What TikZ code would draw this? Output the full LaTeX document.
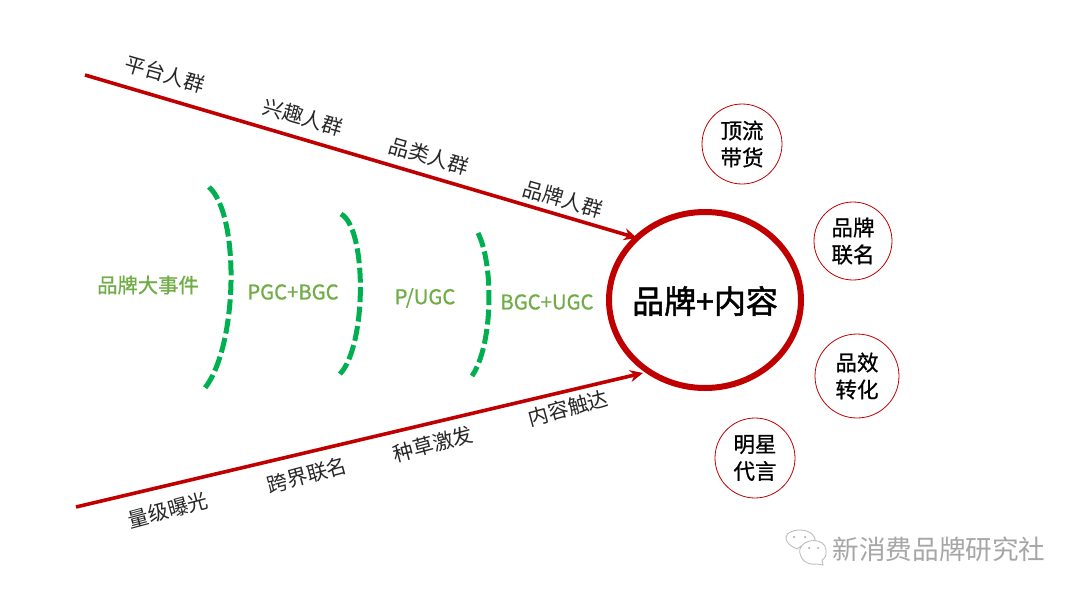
\documentclass[tikz,border=0pt]{standalone}
\usepackage{fontspec}
\setmainfont{Noto Sans CJK SC}
\newfontfamily\medfont[FakeBold=1.6]{Noto Sans CJK SC}
\newfontfamily\semifont[FakeBold=0.8]{Noto Sans CJK SC}
\usetikzlibrary{arrows.meta,shapes.geometric}
\definecolor{brandred}{RGB}{192,0,0}
\definecolor{dashgreen}{RGB}{0,176,80}
\definecolor{labelgreen}{RGB}{112,173,71}
\definecolor{txt}{RGB}{38,38,38}
\tikzset{
 x=1pt,y=-1pt,
 hub/.style={draw=brandred,line width=6pt,ellipse,minimum width=192pt,minimum height=176pt,inner sep=0pt},
 side/.style={draw=brandred,line width=0.8pt,circle,inner sep=0pt,align=center,font=\semifont\fontsize{21.5}{27}\selectfont,text=black},
 flow/.style={draw=brandred,line width=3.6pt,-{Stealth[length=13pt,width=12pt]}},
 greenarc/.style={draw=dashgreen,line width=5pt,dash pattern=on 15pt off 4.5pt},
 tag/.style={font=\fontsize{20.5}{24}\selectfont,text=txt,inner sep=0pt},
 modelabel/.style={font=\semifont\fontsize{20.3}{24}\selectfont,text=labelgreen,inner sep=0pt},
 bubble/.style={draw=black!28,line width=0.8pt,fill=white},
 eye/.style={fill=black!28,draw=none,circle,minimum size=2.5pt,inner sep=0pt},
}
\begin{document}
\begin{tikzpicture}
\useasboundingbox (0,0) rectangle (1080,597);
\fill[white] (0,0) rectangle (1080,597);
\node[hub] (hubnode) at (705,300) {};
\node[font=\medfont\fontsize{32}{38}\selectfont,text=black,inner sep=0pt] (hubtext) at (705,301) {品牌+内容};
\node[side,minimum size=80pt] (c1) at (742,144) {顶流\\带货};
\node[side,minimum size=78pt] (c2) at (853,241) {品牌\\联名};
\node[side,minimum size=84pt] (c3) at (857,376) {品效\\转化};
\node[side,minimum size=80pt] (c4) at (755,458) {明星\\代言};
\coordinate (topstart) at (85,75);
\coordinate (topend) at (637,238);
\coordinate (botstart) at (76,507);
\coordinate (botend) at (643,373);
\draw[flow] (topstart) -- (topend);
\draw[flow] (botstart) -- (botend);
\node[tag,rotate=-16] (t1) at (165,74) {平台人群};
\node[tag,rotate=-16] (t2) at (303,117) {兴趣人群};
\node[tag,rotate=-16] (t3) at (429,156) {品类人群};
\node[tag,rotate=-16] (t4) at (563,199) {品牌人群};
\node[tag,rotate=15] (b1) at (168,510) {量级曝光};
\node[tag,rotate=15] (b2) at (307,475) {跨界联名};
\node[tag,rotate=15] (b3) at (433,444) {种草激发};
\node[tag,rotate=15] (b4) at (568,408) {内容触达};
\coordinate (a1s) at (209,187);
\coordinate (a1e) at (205,388);
\coordinate (a2s) at (341,214);
\coordinate (a2e) at (340,374);
\coordinate (a3s) at (478,233);
\coordinate (a3e) at (472,376);
\draw[greenarc] (a1s) .. controls (240,215) and (238,345) .. (a1e);
\draw[greenarc] (a2s) .. controls (367,228) and (367,345) .. (a2e);
\draw[greenarc] (a3s) .. controls (494,265) and (493,345) .. (a3e);
\node[modelabel] (m1) at (148,285) {品牌大事件};
\node[modelabel] (m2) at (293,292) {PGC+BGC};
\node[modelabel] (m3) at (425,298) {P/UGC};
\node[modelabel] (m4) at (547,302) {BGC+UGC};
\draw[bubble] (797,549) .. controls (779,541) and (785,530) .. (800,530) .. controls (811,530) and (817,537) .. (815,545) -- (801,546) -- cycle;
\draw[bubble] (817,564) .. controls (800,566) and (799,551) .. (800,549) .. controls (803,538) and (825,537) .. (826,550) .. controls (827,556) and (824,559) .. (822,560) -- (823,565) -- cycle;
\node[eye] (e1) at (794,537) {};
\node[eye] (e2) at (805,537) {};
\node[eye] (e3) at (809,548) {};
\node[eye] (e4) at (818,548) {};
\node[font=\fontsize{26.6}{32}\selectfont,text=black!35,inner sep=0pt,anchor=west] (wm) at (832.5,549) {新消费品牌研究社};
\end{tikzpicture}
\end{document}
